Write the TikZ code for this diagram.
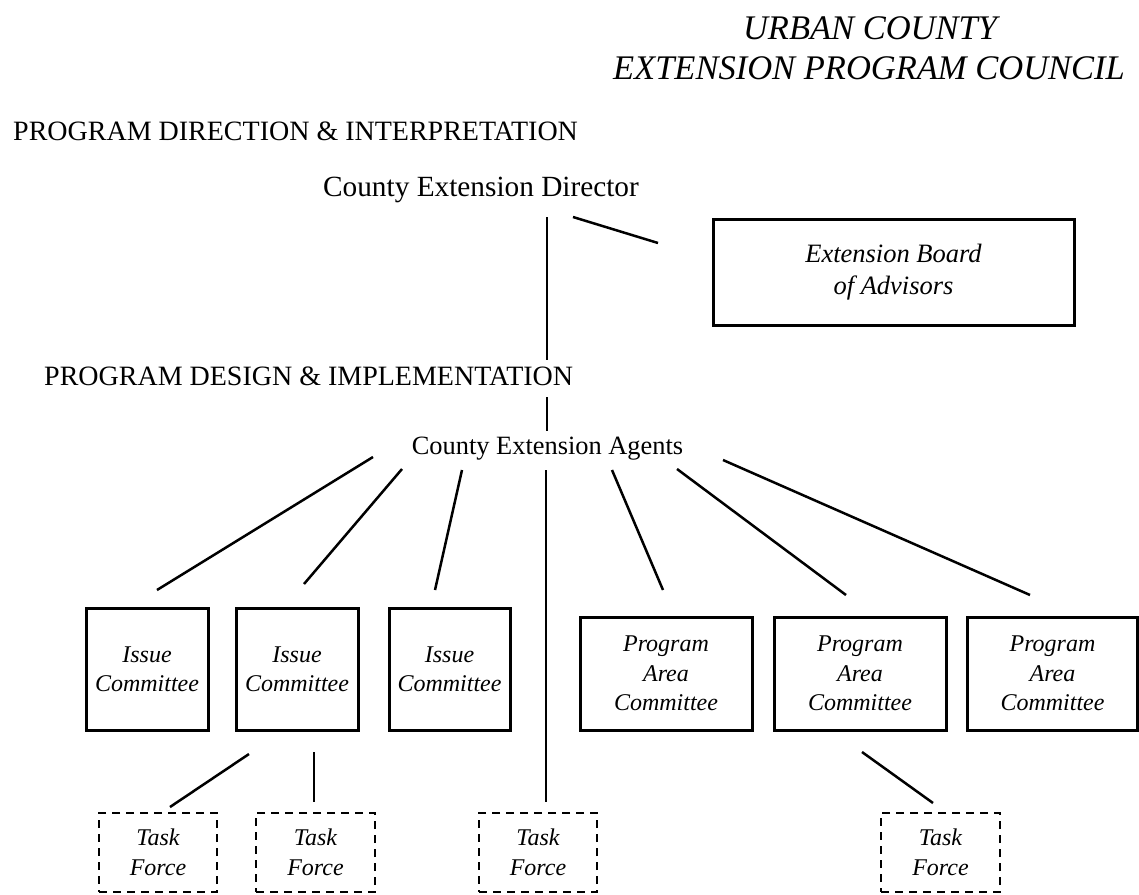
\documentclass[tikz,border=0pt]{standalone}
\usepackage{fontspec}
\setmainfont{Liberation Serif}
\tikzset{
  box/.style={draw, line width=3pt, align=center, inner sep=0pt,
    font=\fontsize{24}{29.5}\selectfont\itshape},
  pabox/.style={box, minimum width=172pt, minimum height=113pt},
  icbox/.style={box, minimum width=122pt, minimum height=122pt},
  tfbox/.style={box, line width=2.6pt, dash pattern=on 8pt off 6pt,
    minimum width=118pt, minimum height=79pt},
  conn/.style={line width=2.5pt},
  head/.style={inner sep=0pt, font=\fontsize{28}{34}\selectfont},
  title/.style={inner sep=0pt, font=\fontsize{34.5}{40}\selectfont\itshape},
}
\begin{document}
\begin{tikzpicture}[x=1pt, y=-1pt]
\useasboundingbox (0,0) rectangle (1139,894);

% titles and headings
\node[title, anchor=base] (t1) at (870,39) {URBAN COUNTY};
\node[title, anchor=base] (t2) at (869,79) {EXTENSION PROGRAM COUNCIL};
\node[head, anchor=base west] (h1) at (13,140) {PROGRAM DIRECTION \& INTERPRETATION};
\node[head, anchor=base west] (h2) at (44,385) {PROGRAM DESIGN \& IMPLEMENTATION};
\node[inner sep=0pt, anchor=base, font=\fontsize{29.3}{34}\selectfont] (dir) at (481,196) {County Extension Director};
\node[inner sep=0pt, anchor=base, font=\fontsize{26.4}{32}\selectfont] (ag) at (547.5,454) {County Extension Agents};

% boxes
\node[box, minimum width=361pt, minimum height=106pt, font=\fontsize{26.5}{32}\selectfont\itshape] (board) at (893.5,272) {Extension Board\\of Advisors};
\node[icbox] (ic1) at (147,669) {Issue\\Committee};
\node[icbox] (ic2) at (297,669) {Issue\\Committee};
\node[icbox, minimum width=121pt] (ic3) at (449.5,669) {Issue\\Committee};
\node[pabox] (pa1) at (666,673.5) {Program\\Area\\Committee};
\node[pabox] (pa2) at (860,673.5) {Program\\Area\\Committee};
\node[pabox, minimum width=170pt] (pa3) at (1052.5,673.5) {Program\\Area\\Committee};
\node[tfbox] (tf1) at (158,852.5) {Task\\Force};
\node[tfbox, minimum width=119pt] (tf2) at (315.5,852.5) {Task\\Force};
\node[tfbox] (tf3) at (538,852.5) {Task\\Force};
\node[tfbox, minimum width=119pt] (tf4) at (940.5,852.5) {Task\\Force};

% connector end points
\coordinate (d1) at (547,217);  \coordinate (h2a) at (547,360);
\coordinate (d2) at (573,217);  \coordinate (b1) at (658,243);
\coordinate (h2b) at (547,397); \coordinate (a0) at (547,431);
\coordinate (a1) at (373,457);  \coordinate (c1) at (157,590);
\coordinate (a2) at (402,469);  \coordinate (c2) at (304,584);
\coordinate (a3) at (462,470);  \coordinate (c3) at (435,590);
\coordinate (a4) at (546,470);  \coordinate (f3) at (546,802);
\coordinate (a5) at (612,470);  \coordinate (c4) at (663,590);
\coordinate (a6) at (677,469);  \coordinate (c5) at (846,595);
\coordinate (a7) at (723,460);  \coordinate (c6) at (1030,595);
\coordinate (i2a) at (249,754); \coordinate (f1) at (170,807);
\coordinate (i2b) at (314,752); \coordinate (f2) at (314,802);
\coordinate (p2a) at (862,752); \coordinate (f4) at (933,803);

\draw[conn] (d1) -- (h2a);
\draw[conn] (d2) -- (b1);
\draw[conn] (h2b) -- (a0);
\draw[conn] (a1) -- (c1);
\draw[conn] (a2) -- (c2);
\draw[conn] (a3) -- (c3);
\draw[conn, line width=2pt] (a4) -- (f3);
\draw[conn] (a5) -- (c4);
\draw[conn] (a6) -- (c5);
\draw[conn] (a7) -- (c6);
\draw[conn] (i2a) -- (f1);
\draw[conn] (i2b) -- (f2);
\draw[conn] (p2a) -- (f4);
\end{tikzpicture}
\end{document}
